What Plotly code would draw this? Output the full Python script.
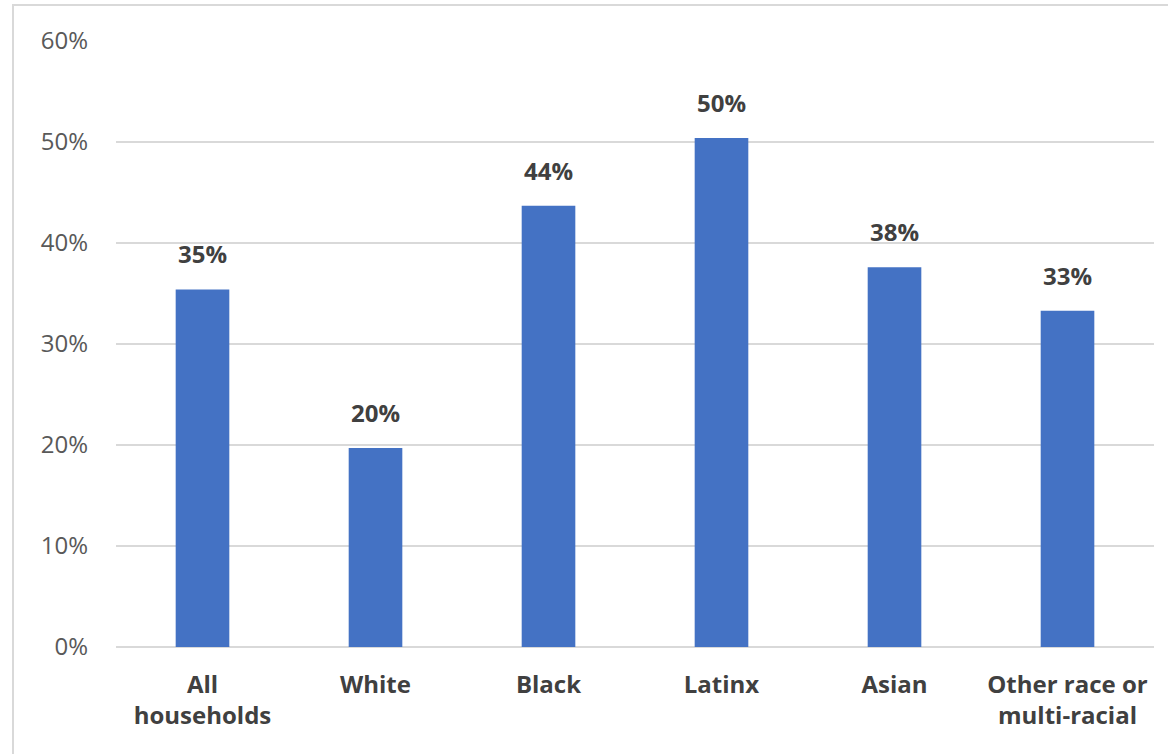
import plotly.graph_objects as go

# Share of households by race/ethnicity
categories = ["All<br>households", "White", "Black", "Latinx", "Asian",
              "Other race or<br>multi-racial"]
shares = [0.354, 0.197, 0.437, 0.504, 0.376, 0.333]
y_ticks = [0, 0.1, 0.2, 0.3, 0.4, 0.5, 0.6]

BAR = "#4472c4"
FONT = "'Open Sans', Lato, sans-serif"

fig = go.Figure(
    go.Bar(
        x=categories,
        y=shares,
        marker=dict(color=BAR, line=dict(width=0)),
        hoverinfo="skip",
    )
)

# value labels above each bar
for c, v in zip(categories, shares):
    fig.add_annotation(
        x=c, y=v, text=f"<b>{v:.0%}</b>", showarrow=False,
        yanchor="bottom", yshift=17,
        font=dict(family=FONT, size=24, color="#404040"),
    )

W, H = 1168, 754
L, R, T, B = 116, 14, 41, 107
pw, ph = W - L - R, H - T - B

# outer chart border
fig.add_shape(
    type="rect", xref="paper", yref="paper",
    x0=(13 - L) / pw, x1=(W + 10 - L) / pw,
    y0=-(H + 10 - (H - B)) / ph, y1=(H - B - 5) / ph,
    line=dict(color="#d9d9d9", width=2), fillcolor="rgba(0,0,0,0)",
    layer="below",
)

fig.update_layout(
    width=W, height=H,
    margin=dict(l=L, r=R, t=T, b=B),
    paper_bgcolor="white", plot_bgcolor="white",
    bargap=0.69,
    showlegend=False,
    font=dict(family=FONT),
    xaxis=dict(
        showgrid=False, showline=False, zeroline=False, ticks="",
        tickfont=dict(family=FONT, size=24, color="#404040", weight="bold"),
        ticklabelstandoff=21,
    ),
    yaxis=dict(
        range=[0, 0.6], tickvals=y_ticks, tickformat=".0%",
        showgrid=True, gridcolor="#d9d9d9", gridwidth=1.5,
        zeroline=True, zerolinecolor="#d9d9d9", zerolinewidth=1.5,
        showline=False, ticks="",
        tickfont=dict(family=FONT, size=24, color="#595959"),
        ticklabelstandoff=27,
    ),
)

fig.write_html("out.html")
